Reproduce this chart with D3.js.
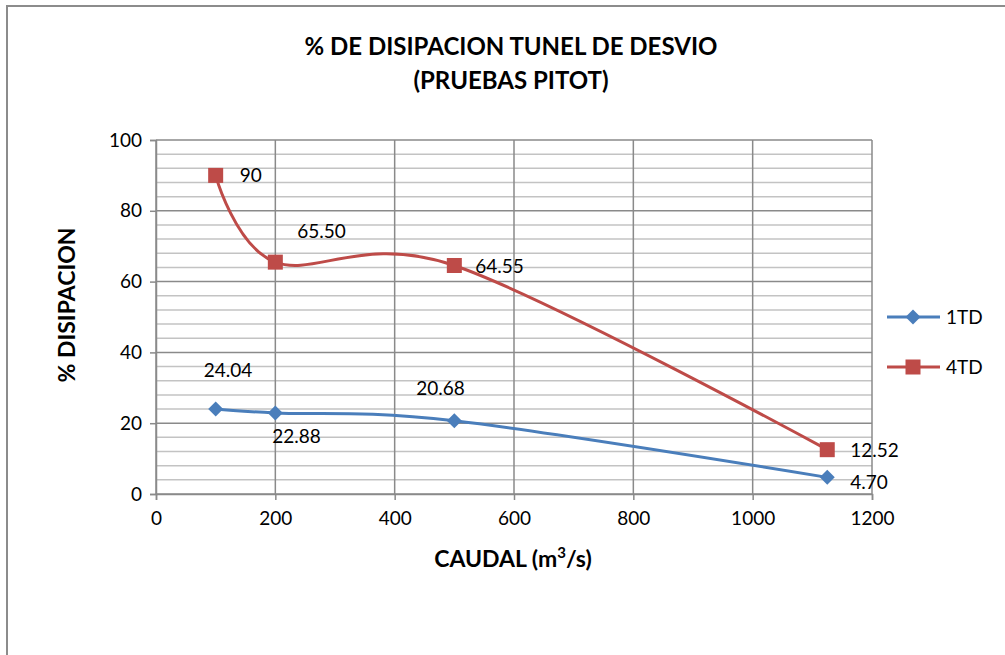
<!DOCTYPE html>
<html>
<head>
<meta charset="utf-8">
<script src="https://cdn.jsdelivr.net/npm/d3@7"></script>
<style>
  html, body { margin: 0; padding: 0; background: #fff; }
  svg { display: block; font-family: Lato, "Open Sans", sans-serif; }
</style>
</head>
<body>
<svg id="chart" width="1005" height="655"></svg>
<script>
// Caudal (m3/s) for each test
const caudal = [100, 200, 500, 1125];
// % de disipacion per tunnel
const td1 = [24.04, 22.88, 20.68, 4.70];
const td4 = [90, 65.50, 64.55, 12.52];
const td1Labels = ["24.04", "22.88", "20.68", "4.70"];
const td4Labels = ["90", "65.50", "64.55", "12.52"];
const xTicks = [0, 200, 400, 600, 800, 1000, 1200];
const yTicks = [0, 20, 40, 60, 80, 100];

const svg = d3.select("#chart");
const plot = { left: 156, right: 872, top: 140, bottom: 494 };

// outer chart frame
svg.append("rect")
  .attr("x", 7).attr("y", 6).attr("width", 1010).attr("height", 680)
  .attr("fill", "#fff").attr("stroke", "#8c8c8c").attr("stroke-width", 2);

const x = d3.scaleLinear().domain([0, 1200]).range([plot.left, plot.right]);
const y = d3.scaleLinear().domain([0, 100]).range([plot.bottom, plot.top]);

// minor horizontal grid every 4 units
const minor = d3.range(0, 101, 4).filter(v => v % 20 !== 0);
svg.append("g").selectAll("line").data(minor).join("line")
  .attr("x1", plot.left).attr("x2", plot.right)
  .attr("y1", d => y(d)).attr("y2", d => y(d))
  .attr("stroke", "#c3c3c3").attr("stroke-width", 1.5);

// major grid
svg.append("g").selectAll("line").data(yTicks).join("line")
  .attr("x1", plot.left).attr("x2", plot.right)
  .attr("y1", d => y(d)).attr("y2", d => y(d))
  .attr("stroke", "#8a8a8a").attr("stroke-width", 1.5);
svg.append("g").selectAll("line").data(xTicks).join("line")
  .attr("x1", d => x(d)).attr("x2", d => x(d))
  .attr("y1", plot.top).attr("y2", plot.bottom)
  .attr("stroke", "#8a8a8a").attr("stroke-width", 1.5);

// axes
const xAxis = d3.axisBottom(x).tickValues(xTicks).tickFormat(d3.format("d")).tickSize(6).tickPadding(12);
const yAxis = d3.axisLeft(y).tickValues(yTicks).tickFormat(d3.format("d")).tickSize(6).tickPadding(8);
const gx = svg.append("g").attr("transform", `translate(0,${plot.bottom})`).call(xAxis);
const gy = svg.append("g").attr("transform", `translate(${plot.left},0)`).call(yAxis);
[gx, gy].forEach(g => {
  g.select(".domain").attr("stroke", "#8a8a8a").attr("stroke-width", 1.5);
  g.selectAll(".tick line").attr("stroke", "#8a8a8a").attr("stroke-width", 1.5);
  g.selectAll(".tick text").attr("fill", "#000").attr("font-size", 19)
    .attr("font-family", "Lato, 'Open Sans', sans-serif");
});

// series
const series = [
  { name: "1TD", values: td1, labels: td1Labels, color: "#4a7ebb", marker: "diamond",
    offsets: [[-12, -32], [-3, 30], [-38, -26], [23, 12]] },
  { name: "4TD", values: td4, labels: td4Labels, color: "#be4b48", marker: "square",
    offsets: [[24, 7], [22, -24], [21, 8], [23, 7]] }
];

const line = d3.line().curve(d3.curveCardinal.tension(0))
  .x(d => x(d[0])).y(d => y(d[1]));

function drawMarker(g, type, cx, cy, color) {
  if (type === "diamond") {
    const s = 7.5;
    g.append("path")
      .attr("d", `M${cx},${cy - s}L${cx + s},${cy}L${cx},${cy + s}L${cx - s},${cy}Z`)
      .attr("fill", color);
  } else {
    const s = 7.5;
    g.append("rect").attr("x", cx - s).attr("y", cy - s)
      .attr("width", 2 * s).attr("height", 2 * s).attr("fill", color);
  }
}

series.forEach(s => {
  const pts = caudal.map((c, i) => [c, s.values[i]]);
  svg.append("path").datum(pts)
    .attr("d", line).attr("fill", "none")
    .attr("stroke", s.color).attr("stroke-width", 3);
  const g = svg.append("g");
  pts.forEach(p => drawMarker(g, s.marker, x(p[0]), y(p[1]), s.color));
  svg.append("g").selectAll("text").data(pts).join("text")
    .attr("x", (d, i) => x(d[0]) + s.offsets[i][0])
    .attr("y", (d, i) => y(d[1]) + s.offsets[i][1])
    .attr("font-size", 19).attr("fill", "#000")
    .text((d, i) => s.labels[i]);
});

// legend
series.forEach((s, i) => {
  const ly = 317 + i * 50;
  svg.append("line").attr("x1", 887).attr("x2", 940).attr("y1", ly).attr("y2", ly)
    .attr("stroke", s.color).attr("stroke-width", 3);
  drawMarker(svg, s.marker, 913, ly, s.color);
  svg.append("text").attr("x", 946).attr("y", ly + 7)
    .attr("font-size", 19).attr("fill", "#000").text(s.name);
});

// titles
svg.append("text").attr("x", 511).attr("y", 55).attr("text-anchor", "middle")
  .attr("font-size", 24).attr("font-weight", "bold").text("% DE DISIPACION TUNEL DE DESVIO");
svg.append("text").attr("x", 511).attr("y", 89).attr("text-anchor", "middle")
  .attr("font-size", 24).attr("font-weight", "bold").text("(PRUEBAS PITOT)");

const xt = svg.append("text").attr("x", 513).attr("y", 567).attr("text-anchor", "middle")
  .attr("font-size", 23).attr("font-weight", "bold");
xt.append("tspan").text("CAUDAL (m");
xt.append("tspan").attr("baseline-shift", "super").attr("font-size", 15).text("3");
xt.append("tspan").text("/s)");

svg.append("text").attr("transform", "translate(75,305) rotate(-90)")
  .attr("text-anchor", "middle").attr("font-size", 23).attr("font-weight", "bold")
  .text("% DISIPACION");
</script>
</body>
</html>
